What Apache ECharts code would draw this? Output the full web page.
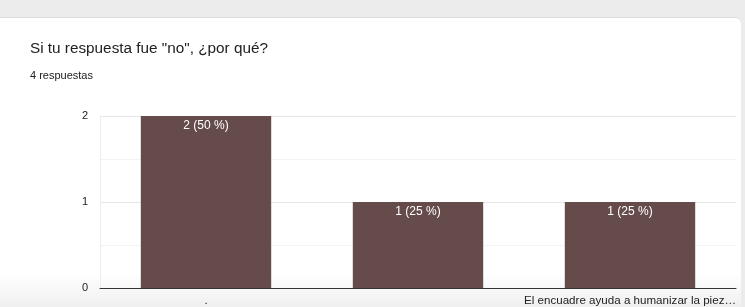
<!DOCTYPE html>
<html>
<head>
<meta charset="utf-8">
<script src="https://cdn.jsdelivr.net/npm/echarts@6/dist/echarts.min.js"></script>
<style>
  html, body { margin: 0; padding: 0; background: #ececec; }
  .card {
    position: absolute; left: 0; top: 17px; width: 741px; height: 290px;
    background: linear-gradient(180deg, #ffffff 0%, #ffffff 88%, #efefef 100%);
    border-top: 1px solid #dcdcdc;
    border-radius: 0 6px 0 0;
  }
  #chart { position: absolute; left: 0; top: 0; width: 745px; height: 307px; }
</style>
</head>
<body>
<div class="card"></div>
<div id="chart"></div>
<script>
const categories = ['.', '', 'El encuadre ayuda a humanizar la piez\u2026'];
const counts = [2, 1, 1];
const titleText = 'Si tu respuesta fue "no", ¿por qué?';
const subText = '4 respuestas';

const total = counts.reduce((a, b) => a + b, 0);

const chart = echarts.init(document.getElementById('chart'));
chart.setOption({
  backgroundColor: 'transparent',
  animation: false,
  textStyle: { fontFamily: 'Liberation Sans, Arial, sans-serif' },
  title: {
    text: titleText,
    subtext: subText,
    left: 25,
    top: 36,
    itemGap: 14,
    textStyle: { fontSize: 15.3, fontWeight: 'normal', color: '#202124' },
    subtextStyle: { fontSize: 11, color: '#202124' }
  },
  grid: { left: 100, right: 9, top: 116, bottom: 19 },
  xAxis: {
    type: 'category',
    data: categories,
    axisTick: { show: false },
    axisLine: { lineStyle: { color: '#333', width: 1 } },
    axisLabel: { color: '#222', fontSize: 11.6, margin: 7, interval: 0 }
  },
  yAxis: {
    type: 'value',
    min: 0,
    max: 2,
    interval: 1,
    axisLine: { show: true, lineStyle: { color: '#eeeeee' } },
    axisLabel: { color: '#222', fontSize: 11, margin: 12 },
    splitLine: { lineStyle: { color: '#e6e6e6' } },
    minorTick: { show: false, splitNumber: 2 },
    minorSplitLine: { show: true, lineStyle: { color: '#f3f3f3' } }
  },
  series: [{
    type: 'bar',
    data: counts,
    barWidth: '61.5%',
    itemStyle: { color: '#664b4b' },
    label: {
      show: true,
      position: 'insideTop',
      distance: 4,
      color: '#ffffff',
      fontSize: 12,
      formatter: p => p.value + ' (' + Math.round(p.value / total * 100) + ' %)'
    }
  }]
});
</script>
</body>
</html>
